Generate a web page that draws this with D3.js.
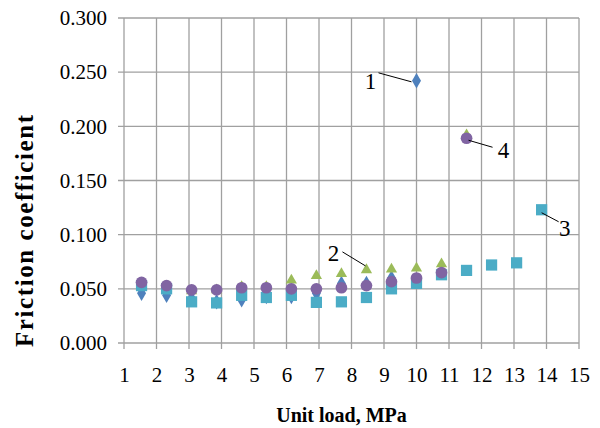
<!DOCTYPE html>
<html>
<head>
<meta charset="utf-8">
<script src="https://cdn.jsdelivr.net/npm/d3@7"></script>
<style>
  body { margin: 0; background: #fff; }
  svg text { font-family: "Liberation Serif", "Times New Roman", serif; fill: #000; }
</style>
</head>
<body>
<div id="chart"></div>
<script>
var width = 600,
    height = 428;

// unit load, MPa (same steps for all series)
var loads = [1.54, 2.31, 3.08, 3.85, 4.62, 5.38, 6.15, 6.92, 7.69, 8.46, 9.23, 10.00, 10.77, 11.54, 12.31, 13.08, 13.85];

// friction coefficient per series
var series1 = [0.046, 0.044, 0.041, 0.038, 0.040, 0.043, 0.043, 0.046, 0.055, 0.055, 0.060, 0.242];
var series2 = [0.054, 0.050, 0.048, 0.049, 0.052, 0.052, 0.058, 0.062, 0.064, 0.0675, 0.068, 0.069, 0.073, 0.192];
var series3 = [0.053, 0.050, 0.038, 0.037, 0.044, 0.042, 0.044, 0.0375, 0.038, 0.042, 0.050, 0.055, 0.063, 0.067, 0.072, 0.074, 0.123];
var series4 = [0.056, 0.053, 0.049, 0.049, 0.051, 0.051, 0.050, 0.050, 0.051, 0.053, 0.0566, 0.060, 0.065, 0.189];

var xTicks = [1, 2, 3, 4, 5, 6, 7, 8, 9, 10, 11, 12, 13, 14, 15];
var yTicks = [0, 0.05, 0.10, 0.15, 0.20, 0.25, 0.30];

var seriesList = [
  { name: "1", values: series1, color: "#4F81BD", symbol: d3.symbolDiamond, size: 70 },
  { name: "2", values: series2, color: "#9BBB59", symbol: d3.symbolTriangle, size: 55 },
  { name: "3", values: series3, color: "#4BACC6", symbol: d3.symbolSquare, size: 126 },
  { name: "4", values: series4, color: "#8064A2", symbol: d3.symbolCircle, size: 108 }
];

var margin = { left: 124, right: 21, top: 18, bottom: 85 };

var x = d3.scaleLinear()
    .domain([1, 15])
    .range([margin.left, width - margin.right]);

var y = d3.scaleLinear()
    .domain([0, 0.3])
    .range([height - margin.bottom, margin.top]);

var svg = d3.select("#chart").append("svg")
    .attr("width", width)
    .attr("height", height);

// grid
svg.append("g").selectAll("line")
  .data(yTicks)
  .enter().append("line")
    .attr("x1", x(1) - 6).attr("x2", x(15))
    .attr("y1", function(d){ return y(d); })
    .attr("y2", function(d){ return y(d); })
    .attr("stroke", "#a0a0a0")
    .attr("stroke-width", 1.3);

svg.append("g").selectAll("line")
  .data(xTicks)
  .enter().append("line")
    .attr("x1", function(d){ return x(d); })
    .attr("x2", function(d){ return x(d); })
    .attr("y1", y(0.3)).attr("y2", y(0) + 6)
    .attr("stroke", "#a0a0a0")
    .attr("stroke-width", 1.3);

// axes (labels only, lines are the grid)
var xAxis = d3.axisBottom(x).tickValues(xTicks).tickSize(6).tickPadding(18).tickFormat(d3.format("d"));
var yAxis = d3.axisLeft(y).tickValues(yTicks).tickSize(6).tickPadding(11).tickFormat(d3.format(".3f"));

var gx = svg.append("g").attr("transform", "translate(0," + y(0) + ")").call(xAxis);
var gy = svg.append("g").attr("transform", "translate(" + x(1) + ",0)").call(yAxis);

[gx, gy].forEach(function(g){
  g.attr("font-family", "Liberation Serif").attr("font-size", 21);
  g.select(".domain").remove();
  g.selectAll(".tick line").remove();
  g.selectAll("text").attr("fill", "#000");
});

// points
seriesList.forEach(function(s){
  svg.append("g").selectAll("path")
    .data(s.values)
    .enter().append("path")
      .attr("d", d3.symbol().type(s.symbol).size(s.size))
      .attr("transform", function(d, i){
        return "translate(" + x(loads[i]) + "," + y(d) + ")";
      })
      .attr("fill", s.color);
});

// callout labels: series index, point index, line start/end offsets, text offset
var callouts = [
  { s: 0, i: 11, line: [-5, 1, -38, -8], text: [-46, 0] },
  { s: 1, i: 9, line: [-1, -4, -24, -18], text: [-33, -17] },
  { s: 2, i: 16, line: [0, 3, 17, 12], text: [23, 18] },
  { s: 3, i: 13, line: [2, 2, 26, 9], text: [37, 12] }
];

callouts.forEach(function(c){
  var s = seriesList[c.s];
  var px = x(loads[c.i]), py = y(s.values[c.i]);
  svg.append("line")
    .attr("x1", px + c.line[0]).attr("y1", py + c.line[1])
    .attr("x2", px + c.line[2]).attr("y2", py + c.line[3])
    .attr("stroke", "#000")
    .attr("stroke-width", 1);
  svg.append("text")
    .attr("x", px + c.text[0])
    .attr("y", py + c.text[1])
    .attr("dy", "0.35em")
    .attr("text-anchor", "middle")
    .attr("font-family", "Liberation Serif")
    .attr("font-size", 23)
    .text(s.name);
});

// axis titles
svg.append("text")
  .attr("x", (x(1) + x(15)) / 2 - 10)
  .attr("y", 422)
  .attr("text-anchor", "middle")
  .attr("font-family", "Liberation Serif")
  .attr("font-size", 20)
  .attr("font-weight", "bold")
  .text("Unit load, MPa");

svg.append("text")
  .attr("transform", "translate(33," + 231 + ") rotate(-90)")
  .attr("text-anchor", "middle")
  .attr("font-family", "Liberation Serif")
  .attr("font-size", 25)
  .attr("font-weight", "bold")
  .attr("textLength", 232)
  .attr("lengthAdjust", "spacing")
  .text("Friction coefficient");
</script>
</body>
</html>
